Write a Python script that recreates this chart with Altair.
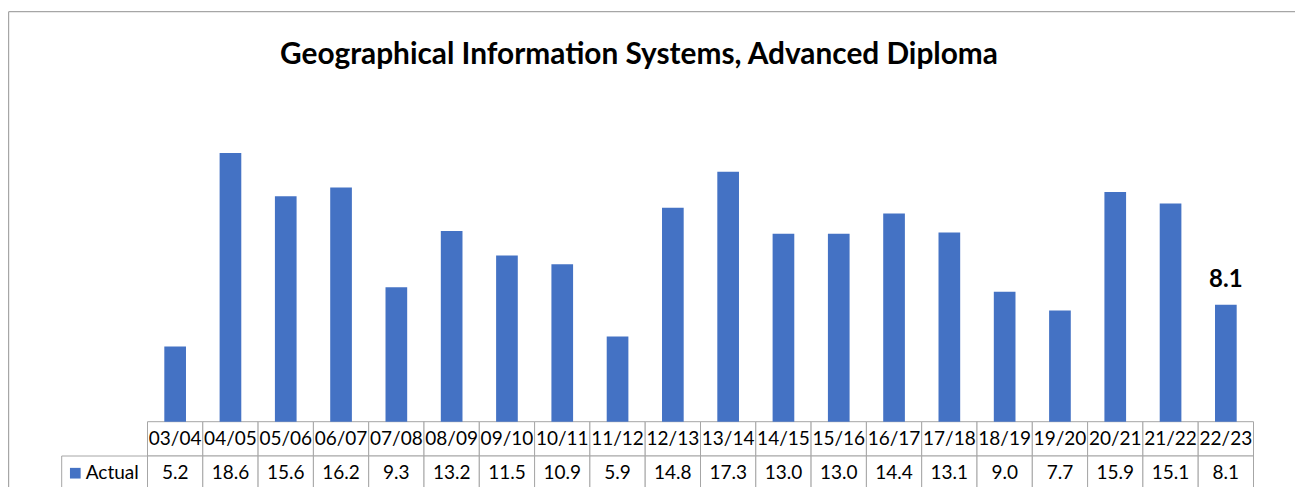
import altair as alt
import pandas as pd

title_text = "Geographical Information Systems, Advanced Diploma"
seasons = ["03/04", "04/05", "05/06", "06/07", "07/08", "08/09", "09/10", "10/11", "11/12", "12/13",
           "13/14", "14/15", "15/16", "16/17", "17/18", "18/19", "19/20", "20/21", "21/22", "22/23"]
actual = [5.2, 18.6, 15.6, 16.2, 9.3, 13.2, 11.5, 10.9, 5.9, 14.8,
          17.3, 13.0, 13.0, 14.4, 13.1, 9.0, 7.7, 15.9, 15.1, 8.1]
series_name = "Actual"
labeled_seasons = ["22/23"]

BLUE = "#4472C4"
GRID = "#a6a6a6"
FONT = "Lato"

df = pd.DataFrame({"season": seasons, "value": actual})
df["label"] = df["value"].map(lambda v: f"{v:.1f}")

step = (1245.5 - 139.5) / len(seasons)

xenc = alt.X("season:N", sort=None, axis=None,
             scale=alt.Scale(range=[139.5, 1245.5], paddingInner=0.608, paddingOuter=0.304))
yenc = alt.Y("value:Q", axis=None, scale=alt.Scale(domain=[0, 20], range=[413.7, 124.7]))

base = alt.Chart(df)

header_cells = base.mark_bar(width=step, fill="white", stroke=GRID, strokeWidth=1).encode(
    x=xenc, y=alt.value(413.7), y2=alt.value(448))
value_cells = base.mark_bar(width=step, fill="white", stroke=GRID, strokeWidth=1).encode(
    x=xenc, y=alt.value(448), y2=alt.value(495))

bars = base.mark_bar(color=BLUE).encode(x=xenc, y=yenc)

label = base.transform_filter(
    alt.FieldOneOfPredicate(field="season", oneOf=labeled_seasons)
).mark_text(font=FONT, fontSize=24, fontWeight="bold", color="black",
            baseline="alphabetic", dy=-18).encode(x=xenc, y=yenc, text="label:N")

header_text = base.mark_text(font=FONT, fontSize=19, color="black", baseline="middle").encode(
    x=xenc, y=alt.value(431), text="season:N")
value_text = base.mark_text(font=FONT, fontSize=19, color="black", baseline="middle").encode(
    x=xenc, y=alt.value(465), text="label:N")

row_df = pd.DataFrame({"series": [series_name]})
row = alt.Chart(row_df)
row_cell = row.mark_rect(fill="white", stroke=GRID, strokeWidth=1).encode(
    x=alt.value(53.7), x2=alt.value(139.5), y=alt.value(448), y2=alt.value(495))
row_square = row.mark_square(color=BLUE, size=114, opacity=1).encode(
    x=alt.value(67.3), y=alt.value(465.2))
row_text = row.mark_text(font=FONT, fontSize=19, color="black", align="left", baseline="middle").encode(
    x=alt.value(77.7), y=alt.value(465), text="series:N")

title_df = pd.DataFrame({"t": [title_text]})
title = alt.Chart(title_df).mark_text(font=FONT, fontSize=29.8, fontWeight="bold", color="black",
                                       align="center", baseline="alphabetic").encode(
    x=alt.value(631), y=alt.value(56.3), text="t:N")

frame_left = row.mark_rule(color=GRID, strokeWidth=1.2).encode(
    x=alt.value(0.6), y=alt.value(3.7), y2=alt.value(479))
frame_top = row.mark_rule(color=GRID, strokeWidth=1.2).encode(
    x=alt.value(0.6), x2=alt.value(1295), y=alt.value(3.7))

chart = alt.layer(
    frame_left, frame_top, title,
    header_cells, value_cells, row_cell,
    bars, label, header_text, value_text, row_square, row_text,
).properties(
    width=1287, height=479,
    autosize=alt.AutoSizeParams(type="none"),
    padding=0,
    background="white",
).configure_view(stroke=None)

chart.save("out.html", embed_options={"renderer": "svg", "actions": False})
